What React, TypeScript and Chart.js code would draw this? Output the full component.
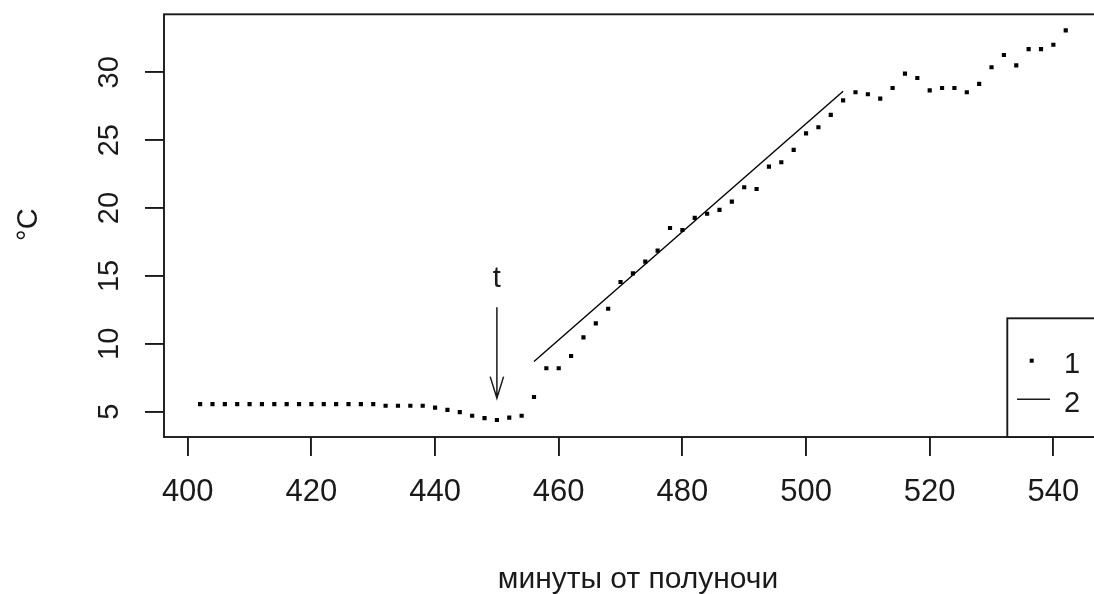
import React, { useEffect, useRef } from 'react';
import { Chart, registerables } from 'chart.js';

Chart.register(...registerables);

// ---- data ----
const minutes = [
  402, 404, 406, 408, 410, 412, 414, 416, 418, 420,
  422, 424, 426, 428, 430, 432, 434, 436, 438, 440,
  442, 444, 446, 448, 450, 452, 454, 456, 458, 460,
  462, 464, 466, 468, 470, 472, 474, 476, 478, 480,
  482, 484, 486, 488, 490, 492, 494, 496, 498, 500,
  502, 504, 506, 508, 510, 512, 514, 516, 518, 520,
  522, 524, 526, 528, 530, 532, 534, 536, 538, 540,
  542,
];
const temps = [
  5.56, 5.56, 5.56, 5.56, 5.56, 5.56, 5.56, 5.56, 5.56, 5.56,
  5.56, 5.56, 5.56, 5.56, 5.56, 5.44, 5.44, 5.44, 5.44, 5.3,
  5.13, 4.97, 4.7, 4.52, 4.39, 4.56, 4.7, 6.08, 8.2, 8.2,
  9.1, 10.48, 11.51, 12.58, 14.55, 15.19, 16.05, 16.86, 18.53, 18.38,
  19.27, 19.58, 19.86, 20.47, 21.53, 21.4, 23.05, 23.37, 24.28, 25.5,
  25.95, 26.86, 27.93, 28.53, 28.38, 28.06, 28.84, 29.9, 29.58, 28.67,
  28.84, 28.84, 28.53, 29.14, 30.37, 31.27, 30.51, 31.71, 31.71, 32.03,
  33.09,
];
const fitMinutes = [456, 506];
const fitTemps = [8.7, 28.6];

const xTicks = [400, 420, 440, 460, 480, 500, 520, 540];
const yTicks = [5, 10, 15, 20, 25, 30];
const legendLabels = ['1', '2'];
const xTitle = 'минуты от полуночи';
const yTitle = '°C';

const markMinute = 450;
const markArrowFrom = 12.7;
const markArrowTo = 6.0;
const markLabel = 't';
const markLabelY = 14.77;

// ---- scale limits (R style 4% extension) ----
const X_MIN = 396.16;
const X_MAX = 547.22;
const Y_MIN = 3.136;
const Y_MAX = 34.27;

const FONT = '"Liberation Sans", Arial, sans-serif';
const INK = '#1a1a1a';

const decorPlugin = {
  id: 'rdecor',
  afterDraw(chart: any) {
    const { ctx, chartArea, scales } = chart;
    const xs = scales.x;
    const ys = scales.y;
    ctx.save();

    // plot box
    ctx.strokeStyle = INK;
    ctx.lineWidth = 1.9;
    ctx.strokeRect(chartArea.left, chartArea.top, chartArea.right - chartArea.left, chartArea.bottom - chartArea.top);

    // y tick labels (rotated, R las=0)
    ctx.fillStyle = INK;
    ctx.font = `29px ${FONT}`;
    ctx.textAlign = 'center';
    ctx.textBaseline = 'alphabetic';
    yTicks.forEach((v) => {
      const py = ys.getPixelForValue(v);
      ctx.save();
      ctx.translate(118, py);
      ctx.rotate(-Math.PI / 2);
      ctx.fillText(String(v), 0, 0);
      ctx.restore();
    });

    // y title
    ctx.save();
    ctx.translate(37, (chartArea.top + chartArea.bottom) / 2 - 1);
    ctx.rotate(-Math.PI / 2);
    ctx.font = `29px ${FONT}`;
    ctx.fillText(yTitle, 0, 0);
    ctx.restore();

    // x title
    ctx.font = `30px ${FONT}`;
    ctx.textAlign = 'center';
    ctx.fillText(xTitle, 638, 588);

    // arrow + label
    const ax = xs.getPixelForValue(markMinute);
    const ay1 = ys.getPixelForValue(markArrowFrom);
    const ay2 = ys.getPixelForValue(markArrowTo);
    ctx.lineWidth = 1.5;
    ctx.beginPath();
    ctx.moveTo(ax, ay1);
    ctx.lineTo(ax, ay2);
    ctx.moveTo(ax - 6.7, ay2 - 21.5);
    ctx.lineTo(ax, ay2);
    ctx.lineTo(ax + 6.7, ay2 - 21.5);
    ctx.stroke();
    ctx.font = `29px ${FONT}`;
    ctx.textBaseline = 'middle';
    ctx.fillText(markLabel, ax, ys.getPixelForValue(markLabelY));

    // legend (bottomright)
    const lLeft = 1007.3;
    const lTop = 318.3;
    ctx.fillStyle = '#ffffff';
    ctx.fillRect(lLeft, lTop, chartArea.right - lLeft, chartArea.bottom - lTop);
    ctx.strokeStyle = INK;
    ctx.lineWidth = 1.9;
    ctx.strokeRect(lLeft, lTop, chartArea.right - lLeft, chartArea.bottom - lTop);
    ctx.fillStyle = '#000';
    ctx.fillRect(1031.7 - 2, 360.7 - 2, 4, 4);
    ctx.lineWidth = 1.4;
    ctx.beginPath();
    ctx.moveTo(1017, 399.3);
    ctx.lineTo(1050, 399.3);
    ctx.stroke();
    ctx.fillStyle = INK;
    ctx.font = `29px ${FONT}`;
    ctx.textAlign = 'left';
    ctx.textBaseline = 'alphabetic';
    ctx.fillText(legendLabels[0], 1064, 373);
    ctx.fillText(legendLabels[1], 1064, 411.5);

    ctx.restore();
  },
};

export default function App() {
  const canvasRef = useRef<HTMLCanvasElement | null>(null);

  useEffect(() => {
    const canvas = canvasRef.current;
    if (!canvas) return;
    const chart = new Chart(canvas, {
      type: 'scatter',
      data: {
        datasets: [
          {
            label: legendLabels[0],
            data: minutes.map((m, i) => ({ x: m, y: temps[i] })),
            showLine: false,
            pointStyle: 'rect',
            pointRadius: 2.95,
            pointBorderWidth: 0,
            pointBackgroundColor: '#000',
            pointBorderColor: '#000',
          },
          {
            label: legendLabels[1],
            data: fitMinutes.map((m, i) => ({ x: m, y: fitTemps[i] })),
            showLine: true,
            pointRadius: 0,
            borderColor: '#000',
            borderWidth: 1.4,
            fill: false,
          },
        ],
      },
      options: {
        animation: false,
        responsive: false,
        devicePixelRatio: 1,
        layout: { padding: { top: 14.3, right: 12, left: 0, bottom: 0 } },
        plugins: {
          legend: { display: false },
          tooltip: { enabled: false },
        },
        scales: {
          x: {
            type: 'linear',
            min: X_MIN,
            max: X_MAX,
            afterBuildTicks: (s: any) => {
              s.ticks = xTicks.map((v) => ({ value: v }));
            },
            afterFit: (s: any) => {
              s.height = 157;
            },
            grid: {
              display: true,
              drawOnChartArea: false,
              drawTicks: true,
              tickLength: 19,
              color: INK,
              lineWidth: 1.9,
            },
            border: { display: false },
            ticks: {
              font: { family: FONT, size: 31 },
              color: INK,
              padding: 18,
              maxRotation: 0,
              autoSkip: false,
            },
          },
          y: {
            type: 'linear',
            min: Y_MIN,
            max: Y_MAX,
            afterBuildTicks: (s: any) => {
              s.ticks = yTicks.map((v) => ({ value: v }));
            },
            afterFit: (s: any) => {
              s.width = 164;
            },
            grid: {
              display: true,
              drawOnChartArea: false,
              drawTicks: true,
              tickLength: 19,
              color: INK,
              lineWidth: 1.9,
            },
            border: { display: false },
            ticks: { display: false },
          },
        },
      },
      plugins: [decorPlugin],
    });
    return () => chart.destroy();
  }, []);

  return (
    <div
      style={{
        position: 'fixed',
        left: 0,
        top: 0,
        width: 1094,
        height: 594,
        overflow: 'hidden',
        background: '#fff',
      }}
    >
      <canvas ref={canvasRef} width={1110} height={594} style={{ width: 1110, height: 594, display: 'block' }} />
    </div>
  );
}
